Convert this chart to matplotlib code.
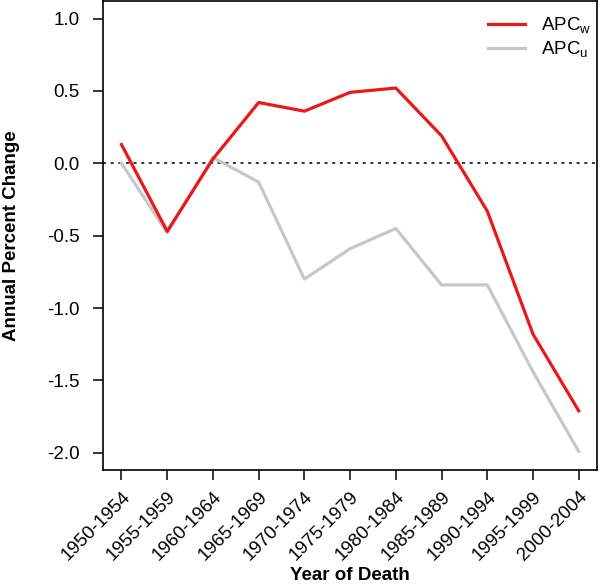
import matplotlib
matplotlib.use("Agg")
import matplotlib.pyplot as plt

plt.rcParams['font.family'] = ['Liberation Sans', 'DejaVu Sans']
plt.rcParams['mathtext.fontset'] = 'custom'
plt.rcParams['mathtext.rm'] = 'Liberation Sans'

# data
periods = ["1950-1954", "1955-1959", "1960-1964", "1965-1969", "1970-1974",
           "1975-1979", "1980-1984", "1985-1989", "1990-1994", "1995-1999",
           "2000-2004"]
apc_w = [0.13, -0.47, 0.03, 0.42, 0.36, 0.49, 0.52, 0.19, -0.33, -1.18, -1.71]
apc_u = [0.00, -0.48, 0.04, -0.13, -0.80, -0.59, -0.45, -0.84, -0.84, -1.44, -1.99]
yticks = [1.0, 0.5, 0.0, -0.5, -1.0, -1.5, -2.0]

fs = 13.5

fig = plt.figure(figsize=(6, 5.87), dpi=100)
ax = fig.add_axes([0.172, 0.199, 0.823, 0.799])

x = list(range(len(periods)))
ax.axhline(0, color='black', lw=1.1, ls=(0, (2, 3)))
ax.plot(x, apc_w, color='#e8191a', lw=2.3, label=r'APC$_\mathrm{w}$', zorder=3)
ax.plot(x, apc_u, color='#c4c8c8', lw=2.3, label=r'APC$_\mathrm{u}$', zorder=2)

ax.set_xlim(-0.4, 10.4)
ax.set_ylim(-2.12, 1.12)
ax.set_xticks(x)
ax.set_xticklabels(periods, rotation=45, ha='right', va='top',
                   rotation_mode='anchor', fontsize=fs)
ax.set_yticks(yticks)
ax.set_yticklabels(['%.1f' % v for v in yticks], fontsize=fs)
ax.tick_params(direction='out', length=7, width=1.1)
ax.tick_params(axis='y', pad=10)
ax.tick_params(axis='x', pad=6)

for s in ax.spines.values():
    s.set_linewidth(1.2)

ax.set_xlabel('Year of Death', fontsize=fs, fontweight='bold')
ax.set_ylabel('Annual Percent Change', fontsize=fs, fontweight='bold')
ax.xaxis.set_label_coords(0.5, -0.225)
ax.xaxis.label.set_va('center')
ax.yaxis.set_label_coords(-0.186, 0.5)
ax.yaxis.label.set_va('center')

ax.legend(loc='upper right', bbox_to_anchor=(1.008, 0.989), frameon=False,
          fontsize=fs, handlelength=2.0, handletextpad=0.85,
          labelspacing=0.2, borderaxespad=0.1)

fig.savefig('out.png', dpi=100)
